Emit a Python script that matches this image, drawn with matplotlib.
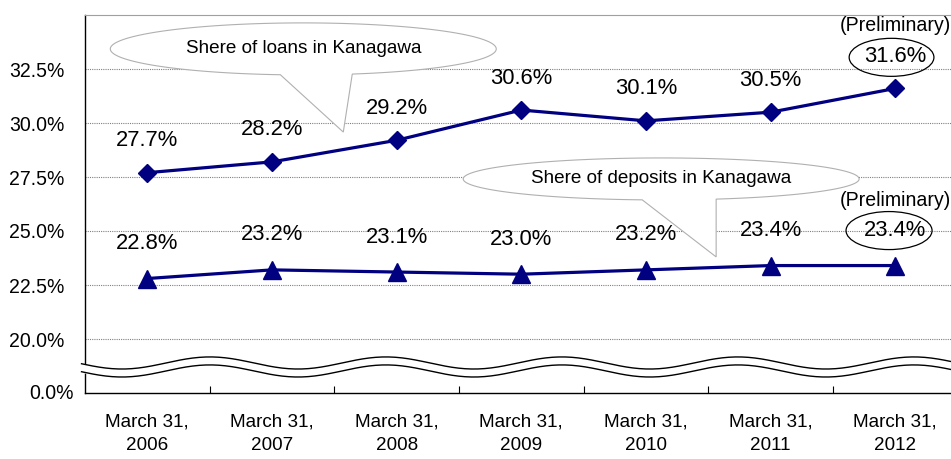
import numpy as np
import matplotlib
matplotlib.use('Agg')
import matplotlib.pyplot as plt
from matplotlib import font_manager
from matplotlib.patches import Polygon, Ellipse
from matplotlib.transforms import blended_transform_factory

dates = ['March 31,\n2006', 'March 31,\n2007', 'March 31,\n2008', 'March 31,\n2009',
         'March 31,\n2010', 'March 31,\n2011', 'March 31,\n2012']
loans = [27.7, 28.2, 29.2, 30.6, 30.1, 30.5, 31.6]
deposits = [22.8, 23.2, 23.1, 23.0, 23.2, 23.4, 23.4]
ytick_vals = [20.0, 22.5, 25.0, 27.5, 30.0, 32.5]
ytick_labels = ['20.0%', '22.5%', '25.0%', '27.5%', '30.0%', '32.5%']
loans_title = 'Shere of loans in Kanagawa'
deposits_title = 'Shere of deposits in Kanagawa'

# pick a narrow font if there is one, else shrink regular Liberation Sans a bit
names = {f.name for f in font_manager.fontManager.ttflist}
if 'Liberation Sans Narrow' in names:
    fam, k = 'Liberation Sans Narrow', 1.0
else:
    fam, k = 'Liberation Sans', 0.88
plt.rcParams['font.family'] = fam

navy = '#000080'
fig = plt.figure(figsize=(9.51, 4.59), dpi=100)
ax = fig.add_axes([85/951, 1-393/459, 866/951, 378/459])
x = np.arange(len(dates))
ax.set_xlim(-0.5, 6.447)
ax.set_ylim(17.5, 35.0)

ax.spines['right'].set_visible(False)
ax.spines['top'].set_color('#a0a0a0')
ax.spines['left'].set_linewidth(1.0)
ax.spines['bottom'].set_linewidth(1.0)

ax.set_yticks(ytick_vals, ytick_labels, fontsize=16*k)
ax.tick_params(axis='y', length=0, pad=15)
ax.set_xticks(x, dates, fontsize=15.5*k, linespacing=1.45)
ax.tick_params(axis='x', which='major', length=0, pad=15)
ax.set_xticks(x[:-1] + 0.5, minor=True)
ax.tick_params(axis='x', which='minor', direction='in', length=5, width=0.8)
for v in ytick_vals:
    ax.axhline(v, color='#808080', lw=0.8, ls=(0, (1, 1)), zorder=1)

# broken-axis label at the bottom
ax.annotate('0.0%', xy=(0, 17.5), xycoords=('axes fraction', 'data'),
            xytext=(-11, 0), textcoords='offset pixels',
            ha='right', va='center', fontsize=16*k)

# wavy axis break
tr = blended_transform_factory(ax.transAxes, ax.transData)
wx = np.linspace(-0.004, 1.0, 400)
upper = 18.89 + 0.28*np.cos(2*np.pi*(wx - 0.1443)/0.2032)
lower = upper - 0.37
ax.fill_between(wx, lower, upper, color='white', transform=tr, zorder=10, clip_on=False)
ax.plot(wx, upper, color='black', lw=1.0, transform=tr, zorder=11, clip_on=False)
ax.plot(wx, lower, color='black', lw=1.0, transform=tr, zorder=11, clip_on=False)


def callout(cx, cy, a, b, bx1, bx2, tip, text):
    t1 = -np.arccos((bx1 - cx)/a)
    t2 = -np.arccos((bx2 - cx)/a)
    t = np.linspace(t2, t1 + 2*np.pi, 300)
    pts = np.column_stack([cx + a*np.cos(t), cy + b*np.sin(t)])
    pts = np.vstack([pts, tip])
    ax.add_patch(Polygon(pts, closed=True, fc='white', ec='#b0b0b0', lw=0.8, zorder=3))
    ax.text(cx, cy, text, ha='center', va='center', fontsize=15.5*k, zorder=4)


callout(1.251, 33.43, 1.548, 1.204, 1.067, 1.644, (1.572, 29.58), loans_title)
callout(4.122, 27.41, 1.588, 0.972, 3.970, 4.563, (4.563, 23.80), deposits_title)

ax.plot(x, loans, color=navy, lw=2.3, marker='D', markersize=9.5, zorder=5, clip_on=False)
ax.plot(x, deposits, color=navy, lw=2.3, marker='^', markersize=13, zorder=5, clip_on=False)

for i, (l, d) in enumerate(zip(loans, deposits)):
    ax.annotate(f'{l:.1f}%', (x[i], l), xytext=(0, 32), textcoords='offset pixels',
                ha='center', va='center', fontsize=18*k, zorder=6)
    ax.annotate(f'{d:.1f}%', (x[i], d), xytext=(0, 35), textcoords='offset pixels',
                ha='center', va='center', fontsize=18*k, zorder=6)

# circles round the preliminary values
ax.add_patch(Ellipse((x[-1] - 0.03, loans[-1] + 1.44), 0.68, 1.76,
                     fc='none', ec='black', lw=0.9, zorder=6))
ax.add_patch(Ellipse((x[-1] - 0.05, deposits[-1] + 1.62), 0.69, 1.76,
                     fc='none', ec='black', lw=0.9, zorder=6))

ax.annotate('(Preliminary)', (x[-1], loans[-1]), xytext=(0, 63), textcoords='offset pixels',
            ha='center', va='center', fontsize=16*k, zorder=6)
ax.annotate('(Preliminary)', (x[-1], deposits[-1]), xytext=(0, 65), textcoords='offset pixels',
            ha='center', va='center', fontsize=16*k, zorder=6)

fig.savefig('out.png', dpi=100)
